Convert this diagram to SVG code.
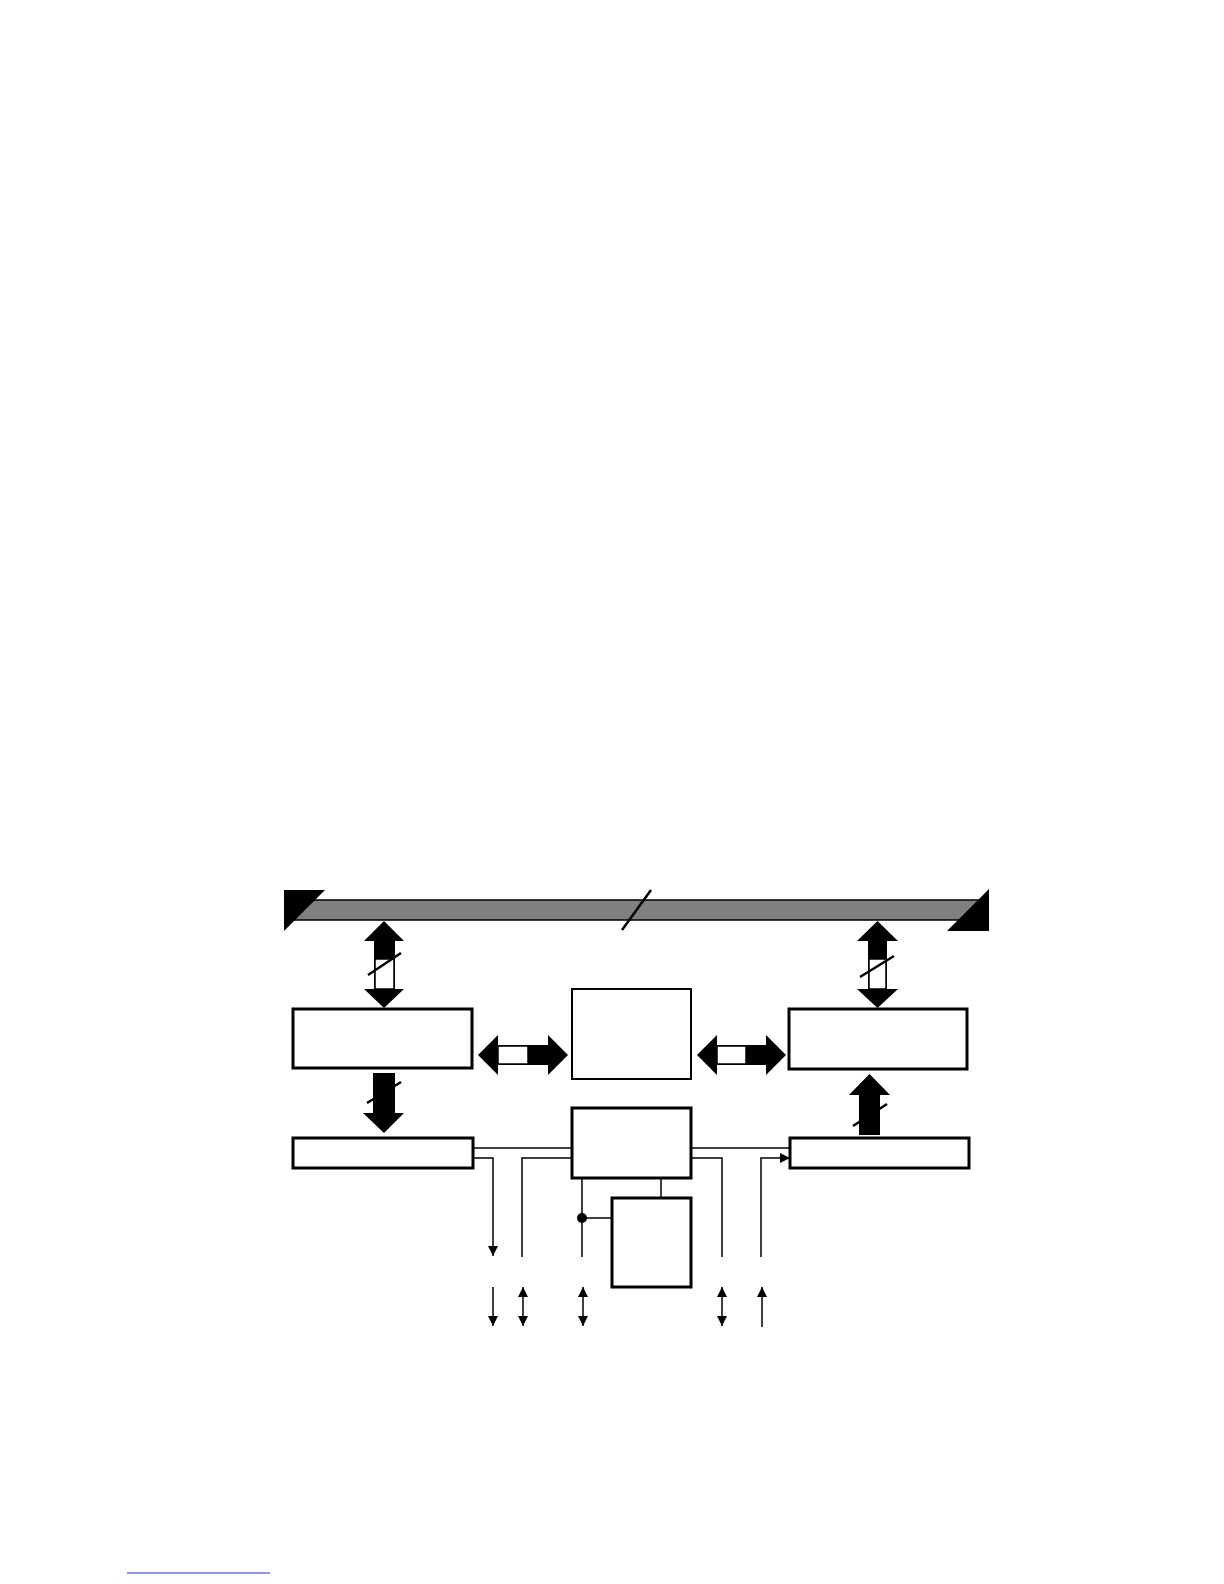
<svg xmlns="http://www.w3.org/2000/svg" width="1224" height="1584" viewBox="0 0 1224 1584">
<style>
.box{fill:#fff;stroke:#000;stroke-width:3}
.thin{fill:none;stroke:#000;stroke-width:1.5}
.blk{fill:#000;stroke:none}
.win{fill:#fff;stroke:#000;stroke-width:1.5}
.sl{stroke:#000;stroke-width:2.5;fill:none}
</style>
<defs>
<marker id="ah" viewBox="0 0 10 10" refX="10" refY="5" markerWidth="10" markerHeight="10" markerUnits="userSpaceOnUse" orient="auto-start-reverse">
<path d="M0,0 L10,5 L0,10 Z" fill="#000"/>
</marker>
</defs>
<rect width="1224" height="1584" fill="#fff"/>
<g id="bus">
<rect x="290" y="900" width="695" height="20" fill="#808080" stroke="#000" stroke-width="1.5"/>
<polygon class="blk" points="284,890 325,890 284,931"/>
<polygon class="blk" points="989,889 989,931 947,931"/>
<line class="sl" x1="651" y1="890" x2="622" y2="930"/>
</g>
<g id="box-left-top"><rect class="box" x="293" y="1009" width="179" height="59"/></g>
<g id="box-center-top"><rect x="572" y="989" width="119" height="90" fill="#fff" stroke="#000" stroke-width="2"/></g>
<g id="box-right-top"><rect class="box" x="789" y="1009" width="178" height="60"/></g>
<g id="box-left-bottom"><rect class="box" x="293" y="1138" width="180" height="30"/></g>
<g id="box-center-bottom"><rect class="box" x="572" y="1108" width="119" height="70"/></g>
<g id="box-small"><rect class="box" x="612" y="1198" width="79" height="89"/></g>
<g id="box-right-bottom"><rect class="box" x="790" y="1138" width="179" height="30"/></g>
<g id="connectors">
<polygon class="blk" points="384,921 404,941 395,941 395,989 404,989 384,1008 364,989 374,989 374,941 364,941"/>
<rect class="win" x="375" y="959" width="19" height="30"/>
<line class="sl" x1="368" y1="975" x2="401" y2="953"/>
<polygon class="blk" points="877.5,921 898,941 887,941 887,989 898,989 877.5,1008 857,989 868,989 868,941 857,941"/>
<rect class="win" x="869" y="959" width="17" height="30"/>
<line class="sl" x1="860" y1="977" x2="894" y2="956"/>
<polygon class="blk" points="478,1055 498,1035 498,1045 548,1045 548,1035 568,1055 548,1075 548,1065 498,1065 498,1075"/>
<rect class="win" x="498" y="1046" width="30" height="18"/>
<polygon class="blk" points="697,1055 717,1035 717,1045 766,1045 766,1035 786,1055 766,1075 766,1065 717,1065 717,1075"/>
<rect class="win" x="717" y="1046" width="29" height="18"/>
<polygon class="blk" points="373,1073 395,1073 395,1113 404,1113 384,1133 363,1113 373,1113"/>
<line class="sl" x1="367" y1="1103" x2="401" y2="1082"/>
<polygon class="blk" points="859,1135 880,1135 880,1095 890,1095 869.5,1074 849,1095 859,1095"/>
<line class="sl" x1="853" y1="1126" x2="887" y2="1104"/>
<line class="thin" x1="473" y1="1148" x2="572" y2="1148"/>
<polyline class="thin" points="473,1158 493,1158 493,1256" marker-end="url(#ah)"/>
<polyline class="thin" points="572,1158 522,1158 522,1257"/>
<line class="thin" x1="582" y1="1178" x2="582" y2="1257"/>
<circle cx="582" cy="1218" r="5" fill="#000"/>
<line class="thin" x1="582" y1="1218" x2="612" y2="1218"/>
<line class="thin" x1="661" y1="1178" x2="661" y2="1198"/>
<line class="thin" x1="691" y1="1148" x2="790" y2="1148"/>
<polyline class="thin" points="691,1158 722,1158 722,1257"/>
<polyline class="thin" points="761,1257 761,1158 790,1158" marker-end="url(#ah)"/>
<line class="thin" x1="493" y1="1287" x2="493" y2="1326" marker-end="url(#ah)"/>
<line class="thin" x1="523" y1="1287" x2="523" y2="1326" marker-start="url(#ah)" marker-end="url(#ah)"/>
<line class="thin" x1="583" y1="1287" x2="583" y2="1326" marker-start="url(#ah)" marker-end="url(#ah)"/>
<line class="thin" x1="722" y1="1287" x2="722" y2="1326" marker-start="url(#ah)" marker-end="url(#ah)"/>
<line class="thin" x1="762" y1="1327" x2="762" y2="1287" marker-end="url(#ah)"/>
</g>
<line x1="127" y1="1573" x2="270" y2="1573" stroke="#1f2fe0" stroke-width="1.2"/>
</svg>
